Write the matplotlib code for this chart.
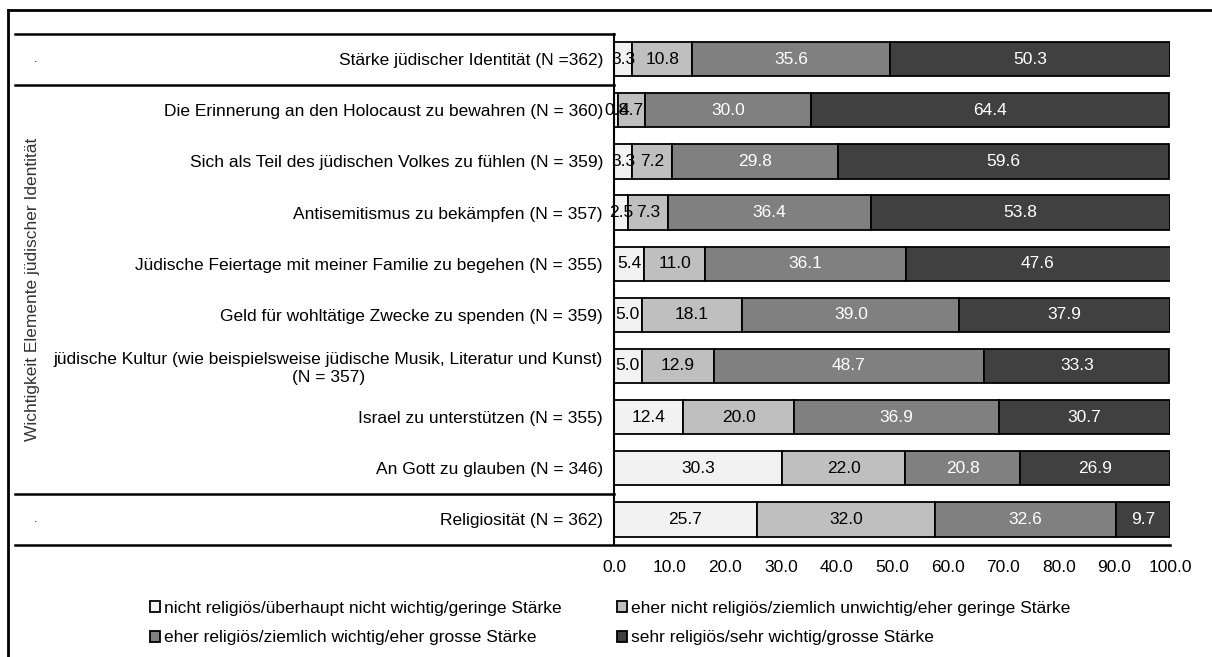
import numpy as np
import matplotlib.pyplot as plt
import matplotlib.transforms as mtransforms
from matplotlib.lines import Line2D
from matplotlib.patches import Patch

plt.rcParams['font.family'] = ['Liberation Sans', 'DejaVu Sans']

# Daten
kategorien = [
    "Stärke jüdischer Identität (N =362)",
    "Die Erinnerung an den Holocaust zu bewahren (N = 360)",
    "Sich als Teil des jüdischen Volkes zu fühlen (N = 359)",
    "Antisemitismus zu bekämpfen (N = 357)",
    "Jüdische Feiertage mit meiner Familie zu begehen (N = 355)",
    "Geld für wohltätige Zwecke zu spenden (N = 359)",
    "jüdische Kultur (wie beispielsweise jüdische Musik, Literatur und Kunst)\n(N = 357)",
    "Israel zu unterstützen (N = 355)",
    "An Gott zu glauben (N = 346)",
    "Religiosität (N = 362)",
]
nicht = [3.3, 0.8, 3.3, 2.5, 5.4, 5.0, 5.0, 12.4, 30.3, 25.7]
eher_nicht = [10.8, 4.7, 7.2, 7.3, 11.0, 18.1, 12.9, 20.0, 22.0, 32.0]
eher = [35.6, 30.0, 29.8, 36.4, 36.1, 39.0, 48.7, 36.9, 20.8, 32.6]
sehr = [50.3, 64.4, 59.6, 53.8, 47.6, 37.9, 33.3, 30.7, 26.9, 9.7]

legenden = [
    "nicht religiös/überhaupt nicht wichtig/geringe Stärke",
    "eher nicht religiös/ziemlich unwichtig/eher geringe Stärke",
    "eher religiös/ziemlich wichtig/eher grosse Stärke",
    "sehr religiös/sehr wichtig/grosse Stärke",
]
farben = ['#F2F2F2', '#BFBFBF', '#808080', '#404040']
textfarben = ['black', 'black', 'white', 'white']

gruppen_grenzen = [-0.5, 0.5, 8.5, 9.5]
gruppe_mitte = 4.5
gruppe_label = "Wichtigkeit Elemente jüdischer Identität"

fs = 12.5
W, H = 1212, 657
fig = plt.figure(figsize=(W / 100, H / 100), dpi=100)
ax = fig.add_axes([614 / W, 1 - 545 / H, (1170 - 614) / W, (545 - 33.5) / H])

y = np.arange(len(kategorien))
links = np.zeros(len(kategorien))
handles = []
for werte, farbe, tf, lab in zip([nicht, eher_nicht, eher, sehr], farben, textfarben, legenden):
    bars = ax.barh(y, werte, left=links, height=0.67, color=farbe,
                   edgecolor='black', linewidth=1.3, label=lab)
    ax.bar_label(bars, labels=[f"{v:.1f}" for v in werte], label_type='center',
                 color=tf, fontsize=fs)
    links += np.array(werte)
    handles.append(Patch(facecolor=farbe, edgecolor='black', linewidth=1.3))

ax.set_xlim(0, 100)
ax.set_ylim(9.5, -0.5)
ax.set_xticks(np.arange(0, 101, 10))
ax.set_xticklabels([f"{v:.1f}" for v in np.arange(0, 101, 10)], fontsize=fs)
ax.set_yticks(y)
ax.set_yticklabels(kategorien, fontsize=fs)
for t in ax.get_yticklabels():
    t.set_multialignment('center')
ax.tick_params(axis='both', length=0)
ax.tick_params(axis='y', pad=8)
ax.tick_params(axis='x', pad=11)
for s in ['top', 'right', 'bottom']:
    ax.spines[s].set_visible(False)
ax.spines['left'].set_linewidth(1.5)

# Trennlinien der Gruppen
trans = mtransforms.blended_transform_factory(fig.transFigure, ax.transData)
for g in gruppen_grenzen:
    x_end = 1170 / W if g == gruppen_grenzen[-1] else 614 / W
    fig.add_artist(Line2D([15 / W, x_end], [g, g], transform=trans,
                          color='black', linewidth=1.8))
for r in [0, 9]:
    fig.text(36 / W, r, ".", transform=trans, fontsize=9, ha='center', va='center')
fig.text(33 / W, gruppe_mitte, gruppe_label, transform=trans, rotation=90,
         fontsize=fs, ha='center', va='center', color='#333333')

# Rahmen
fig.add_artist(Line2D([8 / W, 1], [1 - 10 / H, 1 - 10 / H], color='black', linewidth=2))
fig.add_artist(Line2D([8 / W, 8 / W], [0, 1 - 10 / H], color='black', linewidth=2))

# Legende
leg_kw = dict(loc='upper left', frameon=False, fontsize=fs, handlelength=0.6,
              handleheight=0.6, handletextpad=0.2, labelspacing=0.85, borderpad=0)
fig.legend([handles[0], handles[2]], [legenden[0], legenden[2]],
           bbox_to_anchor=(141 / W, 1 - 592 / H), **leg_kw)
fig.legend([handles[1], handles[3]], [legenden[1], legenden[3]],
           bbox_to_anchor=(608 / W, 1 - 592 / H), **leg_kw)

fig.savefig('out.png', dpi=100)
